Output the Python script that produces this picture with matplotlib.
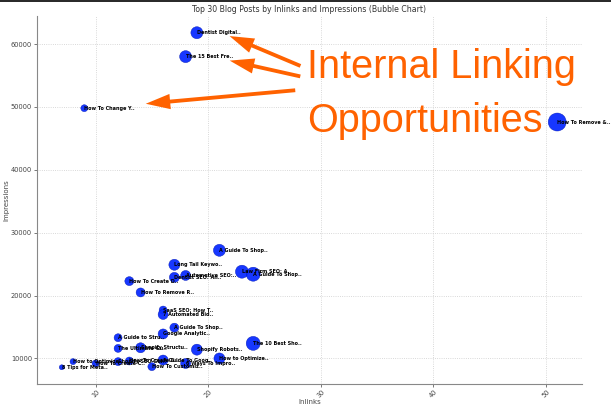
"""Bubble chart: top 30 blog posts by inlinks vs impressions, with callout overlay."""

import matplotlib

matplotlib.use("Agg")
import matplotlib.pyplot as plt
from matplotlib.patches import FancyArrowPatch, Rectangle

W, H = 611, 408

labels = [
    "Dentist Digital..", "The 15 Best Fre..", "How To Change Y..", "How To Remove &..",
    "A Guide To Shop..", "Long Tail Keywo..", "Law Firm SEO: A..", "A Guide To Shop..",
    "Automotive SEO:..", "Dentist SEO: An..", "How To Create D..", "How To Remove R..",
    "SaaS SEO: How T..", "7 Automated Bid..", "A Guide To Shop..", "Google Analytic..",
    "A Guide to Stru..", "The 10 Best Sho..", "The Ultimate Gu..", "Shopify Structu..",
    "Shopify Robots..", "How to Optimize..", "A Guide To Goog..", "6 Ways To Impro..",
    "How To Create S..", "How to Optimize..", "How To Create C..", "8 Tips for Meta..",
    "How To Customiz..", "Shopify SEO Gui..",
]
inlinks = [19, 18, 9, 51, 21, 17, 23, 24, 18, 17, 13, 14, 16, 16, 17, 16,
           12, 24, 12, 14, 19, 21, 16, 18, 13, 8, 10, 7, 15, 12]
impressions = [61800, 58000, 49800, 47600, 27200, 24900, 23800, 23400, 23200, 22900,
               22300, 20500, 17700, 17000, 14900, 13900, 13300, 12400, 11600, 11700,
               11400, 10000, 9750, 9200, 9600, 9500, 9200, 8600, 8700, 9500]
bubble_size = [75, 75, 25, 168, 75, 63, 88, 102, 52, 52, 42, 42, 33, 52, 42, 52,
               33, 102, 33, 52, 63, 63, 52, 52, 33, 19, 25, 13, 33, 33]

callout = ["Internal Linking", "Opportunities"]

fig = plt.figure(figsize=(W / 100, H / 100), dpi=100)
ax = fig.add_axes([37 / W, 1 - 384 / H, (582 - 37) / W, (384 - 16) / H])

ax.scatter(inlinks, impressions, s=bubble_size, color="#0a2cff", alpha=0.95,
           edgecolor="#0016b0", linewidths=0.3, zorder=3)
for lab, x, y in zip(labels, inlinks, impressions):
    ax.text(x, y, lab, fontsize=3.5, fontweight="bold", ha="left", va="center", zorder=4)

ax.set_title("Top 30 Blog Posts by Inlinks and Impressions (Bubble Chart)",
             fontsize=5.6, color="#333333", pad=3)
ax.set_xlabel("Inlinks", fontsize=5, color="#444444", labelpad=0)
ax.set_ylabel("Impressions", fontsize=5, color="#444444", labelpad=1)
ax.tick_params(labelsize=4.8, colors="#444444", length=2, width=0.5, pad=1.5)
plt.setp(ax.get_xticklabels(), rotation=45)
ax.grid(True, linestyle=":", color="#cccccc", linewidth=0.6, zorder=0)
for side in ("top", "right"):
    ax.spines[side].set_visible(False)
for side in ("left", "bottom"):
    ax.spines[side].set_color("#888888")
    ax.spines[side].set_linewidth(0.8)

# orange callout overlay (positions in figure pixels)
orange = "#ff6200"
fig.text(307 / W, 1 - 78 / H, callout[0], fontsize=28.5, color=orange,
         family=["Liberation Sans", "DejaVu Sans"], ha="left", va="baseline")
fig.text(307 / W, 1 - 132 / H, callout[1], fontsize=28.5, color=orange,
         family=["Liberation Sans", "DejaVu Sans"], ha="left", va="baseline")

arrows = [((303, 67), (227, 35)), ((303, 77), (227, 60)), ((298, 90), (143, 104))]
for (tx, ty), (hx, hy) in arrows:
    fig.add_artist(FancyArrowPatch(
        (tx / W, 1 - ty / H), (hx / W, 1 - hy / H), transform=fig.transFigure,
        arrowstyle="simple,head_length=1.6,head_width=1.0,tail_width=0.25",
        mutation_scale=11, color=orange, lw=0))

# dark strip along the top edge of the screenshot
fig.add_artist(Rectangle((0, 1 - 2 / H), 1, 2 / H, transform=fig.transFigure,
                         color="#2b2b2b", lw=0))

fig.savefig("out.png", dpi=100)
